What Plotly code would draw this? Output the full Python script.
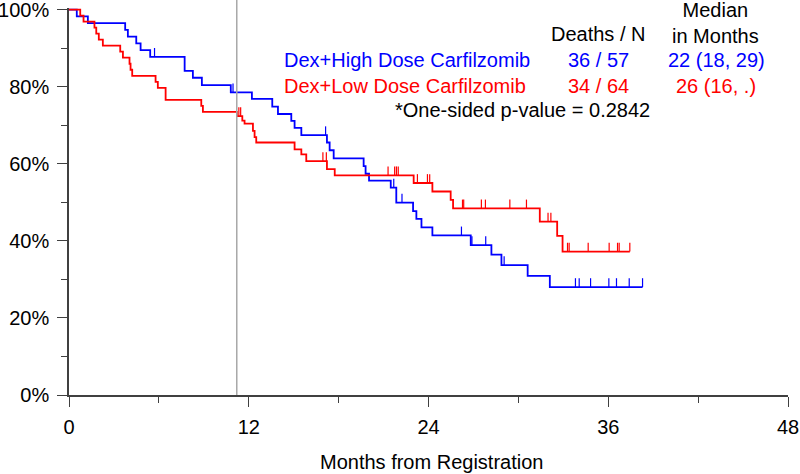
import plotly.graph_objects as go

# ---- data ----
high_times = [0.52, 1.26, 3.75, 3.93, 4.49, 4.78, 5.42, 7.72, 8.27, 8.87, 10.80, 12.21, 13.57,
              13.95, 14.84, 15.06, 15.51, 17.22, 17.40, 17.67, 19.67, 19.80, 20.03, 21.48,
              21.85, 22.97, 23.19, 23.53, 24.26, 26.82, 28.20, 28.87, 30.62, 32.10]
high_surv = [98.25, 96.49, 94.74, 92.98, 91.23, 89.47, 87.72, 84.1, 82.3, 80.4, 78.5, 76.8, 74.8,
             72.9, 71.1, 69.3, 67.4, 65.5, 63.5, 61.4, 59.4, 57.4, 55.6, 53.8,
             49.9, 47.7, 45.7, 43.5, 41.4, 38.9, 36.4, 33.7, 30.9, 28.0]
high_censor = [5.71, 10.95, 17.13, 21.68, 22.23, 26.20, 26.90, 27.82, 29.05, 33.81, 34.06,
               34.82, 36.04, 36.55, 37.40, 38.29]
high_end = 38.29

low_times = [0.75, 0.97, 1.70, 1.82, 1.99, 2.26, 3.42, 3.60, 4.04, 4.11, 4.22, 5.78, 5.93, 6.45,
             8.83, 8.94, 11.21, 11.57, 11.72, 12.28, 12.39, 12.50, 15.06, 15.51, 15.84, 17.22,
             17.74, 23.01, 24.26, 25.48, 25.64, 31.43, 32.59, 32.95]
low_surv = [98.44, 96.88, 95.31, 93.75, 92.19, 90.63, 89.06, 87.5, 85.94, 84.38, 82.81, 81.25,
            79.69, 76.56, 75.0, 73.44, 72.35, 71.2, 70.4, 68.5, 66.9, 65.5, 63.7, 62.4, 60.7,
            58.6, 57.0, 55.0, 52.8, 50.6, 48.4, 45.0, 41.3, 37.2]
low_censor = [11.34, 11.46, 16.95, 17.18, 21.30, 21.74, 21.86, 21.98, 23.26, 23.93, 24.08,
              26.27, 26.35, 27.53, 27.80, 29.43, 30.54, 31.98, 32.17, 33.28, 33.39, 34.66,
              36.06, 36.62, 36.73, 37.44]
low_end = 37.44

landmark = 11.2

x_ticks = [0, 12, 24, 36, 48]
y_ticks = [0, 20, 40, 60, 80, 100]
y_ticktext = ["0%", "20%", "40%", "60%", "80%", "100%"]
x_title = "Months from Registration"

header_cols = ["Deaths / N", "Median<br>in Months"]
groups = ["Dex+High Dose Carfilzomib", "Dex+Low Dose Carfilzomib"]
deaths_n = ["36 / 57", "34 / 64"]
medians = ["22 (18, 29)", "26 (16, .)"]
pvalue_text = "*One-sided p-value = 0.2842"

BLUE = "#0000FF"
RED = "#FF0000"
FONT = "Liberation Sans, Arial, sans-serif"


def step_xy(times, surv, end):
    xs = [0] + list(times) + [end]
    ys = [100] + list(surv) + [surv[-1]]
    return xs, ys


def level_at(t, times, surv):
    lvl = 100
    for ti, si in zip(times, surv):
        if ti <= t:
            lvl = si
    return lvl


def censor_xy(cens, times, surv, h=2.3):
    xs, ys = [], []
    for c in cens:
        lv = level_at(c, times, surv)
        xs += [c, c, None]
        ys += [lv, lv + h, None]
    return xs, ys


fig = go.Figure()
for times, surv, end, cens, col in [
    (high_times, high_surv, high_end, high_censor, BLUE),
    (low_times, low_surv, low_end, low_censor, RED),
]:
    sx, sy = step_xy(times, surv, end)
    fig.add_trace(go.Scatter(x=sx, y=sy, mode="lines", line=dict(color=col, width=1.8, shape="hv"),
                             showlegend=False, hoverinfo="skip"))
    cx, cy = censor_xy(cens, times, surv)
    fig.add_trace(go.Scatter(x=cx, y=cy, mode="lines", line=dict(color=col, width=1.2),
                             showlegend=False, hoverinfo="skip"))

L, R, T, B = 69, 12, 8, 79
W, H = 800, 474
PW, PH = W - L - R, H - T - B


def px(xp):
    return (xp - L) / PW


def py(yp):
    return (H - B - yp) / PH


fig.add_shape(type="line", xref="x", yref="paper", x0=landmark, x1=landmark, y0=0,
              y1=1 + T / PH, line=dict(color="#a8a8a8", width=1.5))

ann = []
ann.append(dict(x=px(598), y=py(34), text=header_cols[0], xanchor="center", yanchor="middle",
                font=dict(color="black")))
ann.append(dict(x=px(715), y=py(23), text=header_cols[1], xanchor="center", yanchor="middle",
                font=dict(color="black")))
for i, (g, d, m, c) in enumerate(zip(groups, deaths_n, medians, [BLUE, RED])):
    yy = [60, 85.5][i]
    ann.append(dict(x=px(282), y=py(yy), text=g, xanchor="left", yanchor="middle", font=dict(color=c)))
    ann.append(dict(x=px(598), y=py(yy), text=d, xanchor="center", yanchor="middle", font=dict(color=c)))
    ann.append(dict(x=px(716), y=py(yy), text=m, xanchor="center", yanchor="middle", font=dict(color=c)))
ann.append(dict(x=px(393), y=py(110), text=pvalue_text, xanchor="left", yanchor="middle",
                font=dict(color="black")))
ann.append(dict(x=px(431), y=py(462), text=x_title, xanchor="center", yanchor="middle",
                font=dict(color="black")))
for a in ann:
    a.update(xref="paper", yref="paper", showarrow=False)
    a["font"].update(size=20, family=FONT)

AX = "#404040"
fig.update_layout(
    width=W, height=H,
    margin=dict(l=L, r=R, t=T, b=B, autoexpand=False),
    paper_bgcolor="white", plot_bgcolor="white",
    font=dict(family=FONT, size=20, color="black"),
    annotations=ann,
    xaxis=dict(range=[0, 48], tickvals=x_ticks, ticks="outside", ticklen=10, tickwidth=1.3,
               tickcolor=AX, showline=True, linecolor=AX, linewidth=1.5, showgrid=False,
               zeroline=False, ticklabelstandoff=3, ticklabeloverflow="allow",
               minor=dict(ticks="outside", ticklen=6, dtick=6, tick0=0, tickcolor=AX, tickwidth=1.3,
                          showgrid=False),
               automargin=False),
    yaxis=dict(range=[0, 100.4], tickvals=y_ticks, ticktext=y_ticktext, ticks="outside", ticklen=10,
               tickwidth=1.3, tickcolor=AX, showline=True, linecolor=AX, linewidth=1.5,
               showgrid=False, zeroline=False, ticklabelstandoff=4, ticklabeloverflow="allow",
               minor=dict(ticks="outside", ticklen=6, dtick=10, tick0=0, tickcolor=AX, tickwidth=1.3,
                          showgrid=False),
               automargin=False),
)

fig.write_html("out.html", config={"displayModeBar": False},
               post_script="document.body.style.margin='0px';")
